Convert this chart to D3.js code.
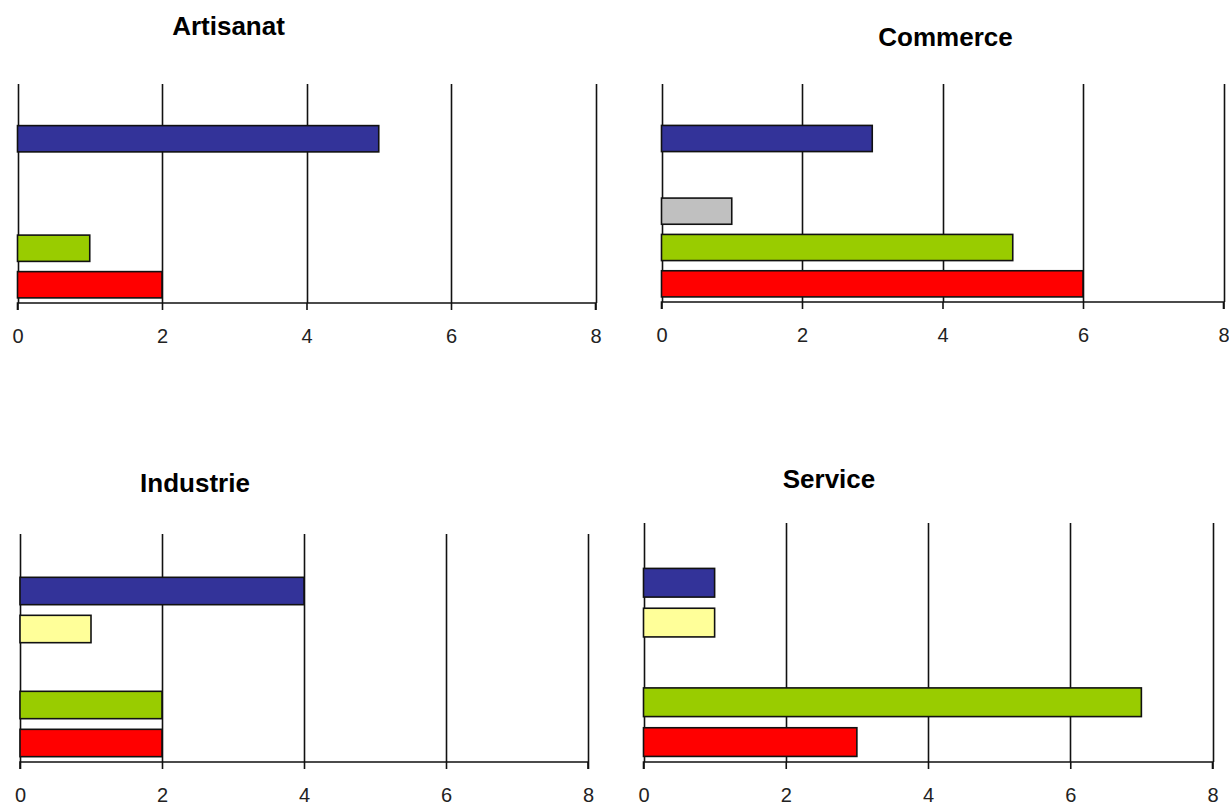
<!DOCTYPE html>
<html>
<head>
<meta charset="utf-8">
<script src="https://cdn.jsdelivr.net/npm/d3@7"></script>
<style>
  html, body { margin: 0; padding: 0; background: #fff; }
  svg { display: block; }
</style>
</head>
<body>
<svg id="chart" width="1229" height="805"></svg>
<script>
// ---- data ----
const categories = ["Artisanat", "Commerce", "Industrie", "Service"];
const seriesNames = ["Série 1", "Série 2", "Série 3", "Série 4", "Série 5", "Série 6"];
const seriesColors = ["#FF0000", "#99CC00", "#C0C0C0", "#FFFF99", "#333399", "#993366"];
// values per series, in category order
const serie1 = [2, 6, 2, 3];
const serie2 = [1, 5, 2, 7];
const serie3 = [0, 1, 0, 0];
const serie4 = [0, 0, 1, 1];
const serie5 = [5, 3, 4, 1];
const serie6 = [0, 0, 0, 0];
const seriesValues = [serie1, serie2, serie3, serie4, serie5, serie6];
const xTicks = [0, 2, 4, 6, 8];
const xMax = 8;

// ---- layout (pixel boxes of each panel) ----
const panels = [
  { x0: 17.5,  x1: 595.5,  top: 84,  axis: 303, tx: 228.5, ty: 35 },
  { x0: 661.5, x1: 1223.5, top: 84,  axis: 302, tx: 945.5, ty: 46 },
  { x0: 20,    x1: 588,    top: 534, axis: 762, tx: 195,   ty: 492 },
  { x0: 643.5, x1: 1212.5, top: 523, axis: 762, tx: 829,   ty: 488 }
];

const svg = d3.select("#chart");

categories.forEach((cat, ci) => {
  const p = panels[ci];
  const g = svg.append("g");

  const x = d3.scaleLinear().domain([0, xMax]).range([p.x0, p.x1]);
  const y = d3.scaleBand()
    .domain(d3.range(seriesNames.length))
    .range([p.axis, p.top])
    .paddingInner(0.28)
    .paddingOuter(0.14);

  // gridlines
  g.selectAll("line.grid")
    .data(xTicks)
    .join("line")
    .attr("class", "grid")
    .attr("x1", d => Math.round(x(d)) + 0.5)
    .attr("x2", d => Math.round(x(d)) + 0.5)
    .attr("y1", p.top)
    .attr("y2", p.axis)
    .attr("stroke", "#111")
    .attr("stroke-width", 1.6);

  // bars
  const rows = seriesValues.map((vals, si) => ({ si, v: vals[ci] })).filter(d => d.v > 0);
  g.selectAll("rect.bar")
    .data(rows)
    .join("rect")
    .attr("class", "bar")
    .attr("x", x(0))
    .attr("y", d => y(d.si))
    .attr("width", d => x(d.v) - x(0))
    .attr("height", y.bandwidth())
    .attr("fill", d => seriesColors[d.si])
    .attr("stroke", "#111")
    .attr("stroke-width", 1.6);

  // x axis
  const axis = d3.axisBottom(x)
    .tickValues(xTicks)
    .tickSize(7)
    .tickPadding(19)
    .tickFormat(d3.format("d"));
  const ag = g.append("g")
    .attr("transform", `translate(0,${p.axis})`)
    .call(axis);
  ag.select(".domain")
    .attr("stroke", "#111")
    .attr("stroke-width", 1.6)
    .attr("d", `M${p.x0},7V0H${p.x1}V7`);
  ag.selectAll(".tick line").attr("stroke", "#111").attr("stroke-width", 1.6);
  ag.selectAll(".tick text")
    .attr("fill", "#222")
    .attr("font-family", "'Liberation Sans', Arial, sans-serif")
    .attr("font-size", 20);

  // title
  svg.append("text")
    .attr("x", p.tx)
    .attr("y", p.ty)
    .attr("text-anchor", "middle")
    .attr("font-family", "'Liberation Sans', Arial, sans-serif")
    .attr("font-weight", "bold")
    .attr("font-size", 26)
    .attr("fill", "#000")
    .text(cat);
});
</script>
</body>
</html>
